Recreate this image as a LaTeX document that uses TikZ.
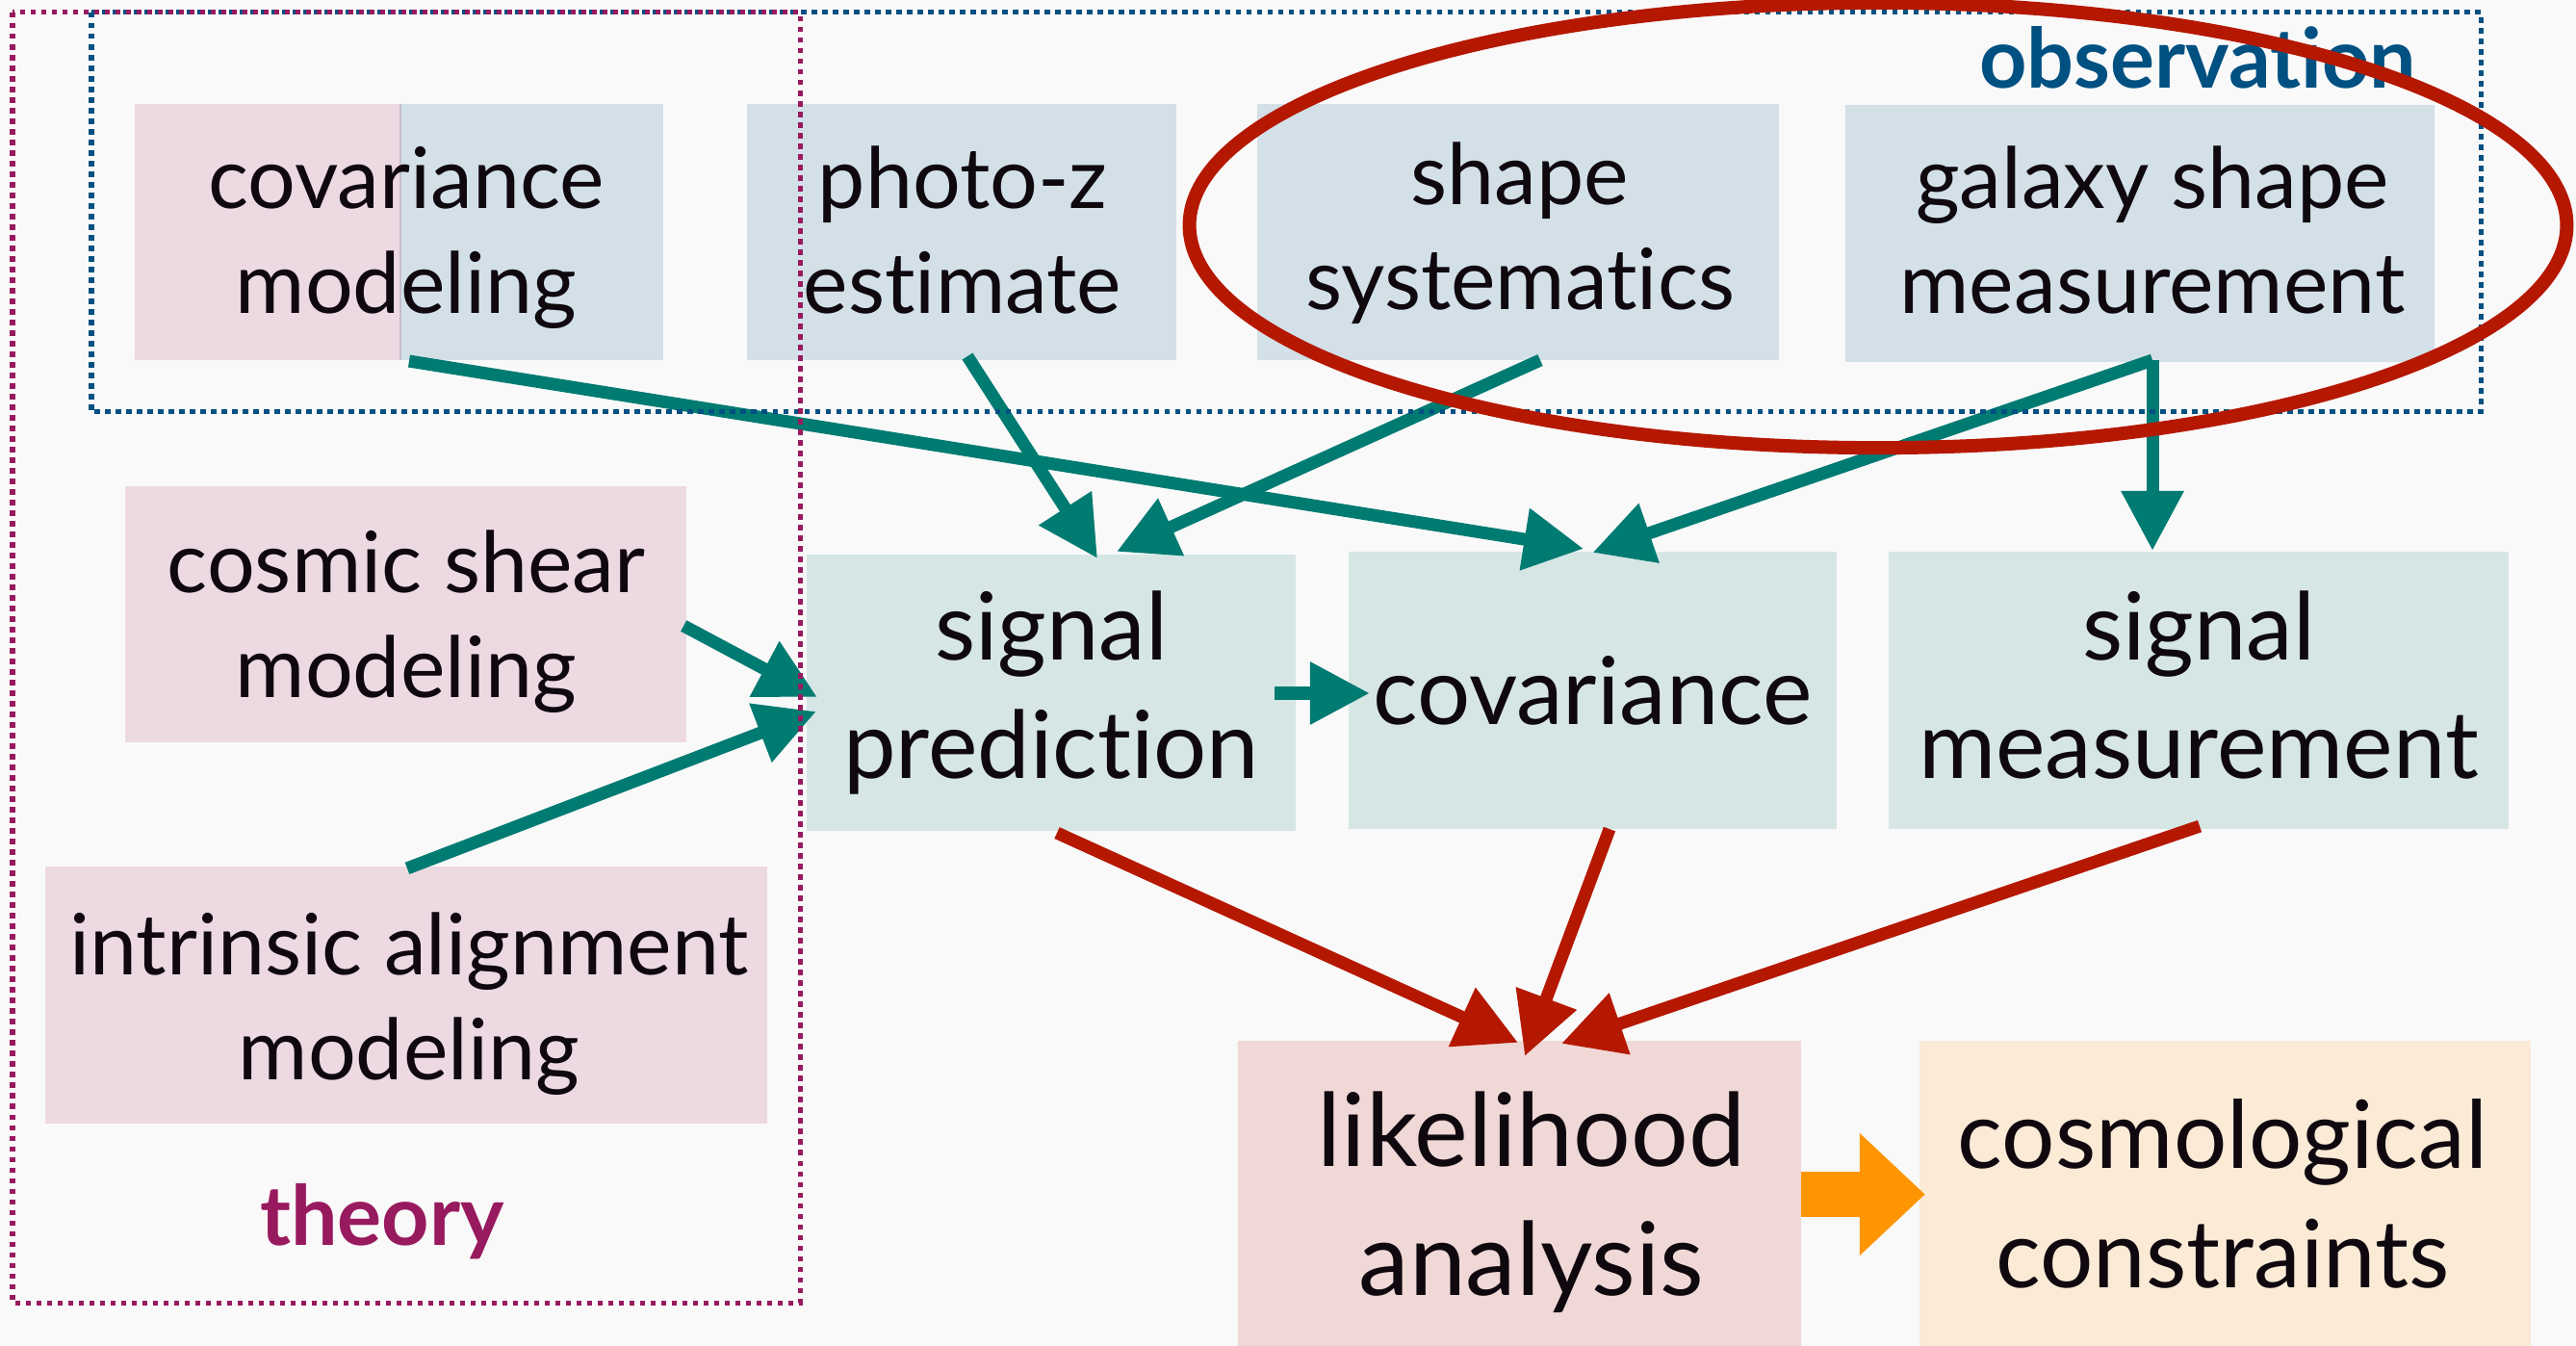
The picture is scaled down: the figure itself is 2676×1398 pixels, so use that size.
\documentclass[tikz,border=0pt]{standalone}
\usepackage{fontspec}
\setmainfont[Ligatures=NoCommon]{Lato}
\usetikzlibrary{arrows.meta,calc}
\definecolor{bgc}{RGB}{249,249,249}
\definecolor{pinkbox}{RGB}{237,217,226}
\definecolor{bluebox}{RGB}{211,224,232}
\definecolor{tealbox}{RGB}{214,230,229}
\definecolor{likebox}{RGB}{239,216,213}
\definecolor{cosmobox}{RGB}{250,234,214}
\definecolor{tealc}{RGB}{0,123,114}
\definecolor{redc}{RGB}{181,24,0}
\definecolor{orangec}{RGB}{255,149,0}
\definecolor{theoryc}{RGB}{152,26,94}
\definecolor{obsc}{RGB}{0,80,130}
\definecolor{ink}{RGB}{15,8,15}
\definecolor{splitc}{RGB}{200,190,205}
\begin{document}
\begin{tikzpicture}[x=0.01cm,y=-0.01cm,
  boxs/.style={rectangle, inner sep=0pt, outer sep=0pt, draw=none},
  txtA/.style={inner sep=0pt, align=center, text=ink, font=\fontsize{25}{30.73}\selectfont},
  txtB/.style={inner sep=0pt, align=center, text=ink, font=\fontsize{27.7}{34.71}\selectfont},
  txtC/.style={inner sep=0pt, align=center, text=ink, font=\fontsize{30}{37.84}\selectfont},
  txtD/.style={inner sep=0pt, align=center, text=ink, font=\fontsize{27.8}{35}\selectfont},
  tealarrow/.style={draw=tealc, line width=0.13cm, -{Triangle[length=0.62cm,width=0.62cm]}},
  redarrow/.style={draw=redc, line width=0.13cm, -{Triangle[length=0.64cm,width=0.64cm]}},
  dotbox/.style={line width=0.05cm, dash pattern=on 0.055cm off 0.055cm},
  grouplabel/.style={font=\bfseries\fontsize{24.5}{28}\selectfont, inner sep=0pt}
]
\fill[bgc] (0,0) rectangle (2676,1398);
\useasboundingbox (0,0) rectangle (2676,1398);

% boxes
\node[boxs, minimum width=5.49cm, minimum height=2.66cm] (covm) at (414.5,241) {};
\fill[pinkbox] (covm.north west) rectangle ($(covm.south)+(1.5,0)$);
\fill[bluebox] ($(covm.north)+(1.5,0)$) rectangle (covm.south east);
\draw[splitc, line width=0.02cm] ($(covm.north)+(1.5,0)$) -- ($(covm.south)+(1.5,0)$);
\node[boxs, fill=bluebox, minimum width=4.46cm, minimum height=2.66cm] (photoz) at (999,241) {};
\node[boxs, fill=bluebox, minimum width=5.42cm, minimum height=2.66cm] (shsys) at (1577,241) {};
\node[boxs, fill=bluebox, minimum width=6.12cm, minimum height=2.67cm] (galshape) at (2223,242.5) {};
\node[boxs, fill=pinkbox, minimum width=5.83cm, minimum height=2.66cm] (cosmic) at (421.5,638) {};
\node[boxs, fill=pinkbox, minimum width=7.50cm, minimum height=2.67cm] (intrinsic) at (422,1033.5) {};
\node[boxs, fill=tealbox, minimum width=5.08cm, minimum height=2.87cm] (sigpred) at (1092,719.5) {};
\node[boxs, fill=tealbox, minimum width=5.07cm, minimum height=2.88cm] (cov) at (1654.5,717) {};
\node[boxs, fill=tealbox, minimum width=6.44cm, minimum height=2.88cm] (sigmeas) at (2284,717) {};
\node[boxs, fill=likebox, minimum width=5.85cm, minimum height=3.19cm] (like) at (1578.5,1240.5) {};
\node[boxs, fill=cosmobox, minimum width=6.35cm, minimum height=3.19cm] (cosmo) at (2311.5,1240.5) {};

% texts
\node[txtA] (covmT) at (422,249.4) {\strut covariance\\\strut modeling};
\node[txtA] (photozT) at (1000,249.4) {\strut photo-z\\\strut estimate};
\node[txtA] (shsysT) at (1579,245.4) {\strut shape\\\strut systematics};
\node[txtA] (galshapeT) at (2236,249.4) {\strut galaxy shape\\\strut measurement};
\node[txtA] (cosmicT) at (422,648.4) {\strut cosmic shear\\\strut modeling};
\node[txtA] (intrinsicT) at (425,1045.4) {\strut intrinsic alignment\\\strut modeling};
\node[txtB] (sigpredT) at (1092,722.6) {\strut signal\\\strut prediction};
\node[txtB] (covT) at (1654.5,727.6) {\strut covariance};
\node[txtB] (sigmeasT) at (2284,722.6) {\strut signal\\\strut measurement};
\node[txtC] (likeT) at (1591,1251.9) {\strut likelihood\\\strut analysis};
\node[txtD] (cosmoT) at (2309,1250.9) {\strut cosmological\\\strut constraints};

% teal arrows
\draw[tealarrow] ($(covm.south)+(10.5,1)$) -- ($(cov.north)+(-9.5,-3)$);
\draw[tealarrow] ($(photoz.south)+(6,-4)$) -- ($(sigpred.north)+(48,4)$);
\draw[tealarrow] ($(shsys.south)+(23,0)$) -- ($(sigpred.north)+(68,-3)$);
\draw[tealarrow] ($(galshape.south)+(13,-2)$) -- ($(cov.north)+(0,1)$);
\draw[tealarrow] ($(galshape.south)+(13,-2)$) -- ($(sigmeas.north)+(-48,-1)$);
\draw[tealarrow] ($(cosmic.east)+(-3,12)$) -- ($(sigpred.west)+(11,4.5)$);
\draw[tealarrow] ($(intrinsic.north)+(1,2)$) -- ($(sigpred.west)+(10,19.5)$);
\draw[tealarrow] ($(sigpred.east)+(-22,0.5)$) -- ($(cov.west)+(22,3)$);

% red arrows
\draw[redarrow] ($(sigpred.south)+(6,2)$) -- ($(like.north)+(-1.5,2)$);
\draw[redarrow] ($(cov.south)+(17.5,0)$) -- ($(like.north)+(5.5,16)$);
\draw[redarrow] ($(sigmeas.south)+(1,-3)$) -- ($(like.north)+(43.5,3)$);

% orange arrow
\draw[orangec, line width=0.47cm, -{Triangle[length=0.68cm,width=1.23cm]}] (like.east) -- ($(cosmo.west)+(6,0)$);

% group boxes
\draw[dotbox, draw=obsc] (95,13) rectangle (2577,428);
\draw[dotbox, draw=theoryc] (13,13) rectangle (831,1353);
\node[grouplabel, text=obsc, anchor=base east] (obsL) at (2511,92) {observation};
\node[grouplabel, text=theoryc, anchor=base] (theoryL) at (397,1293) {theory};

% highlight ellipse
\draw[redc, line width=0.14cm] (1951,234) ellipse [x radius=7.15cm, y radius=2.31cm];
\end{tikzpicture}
\end{document}
